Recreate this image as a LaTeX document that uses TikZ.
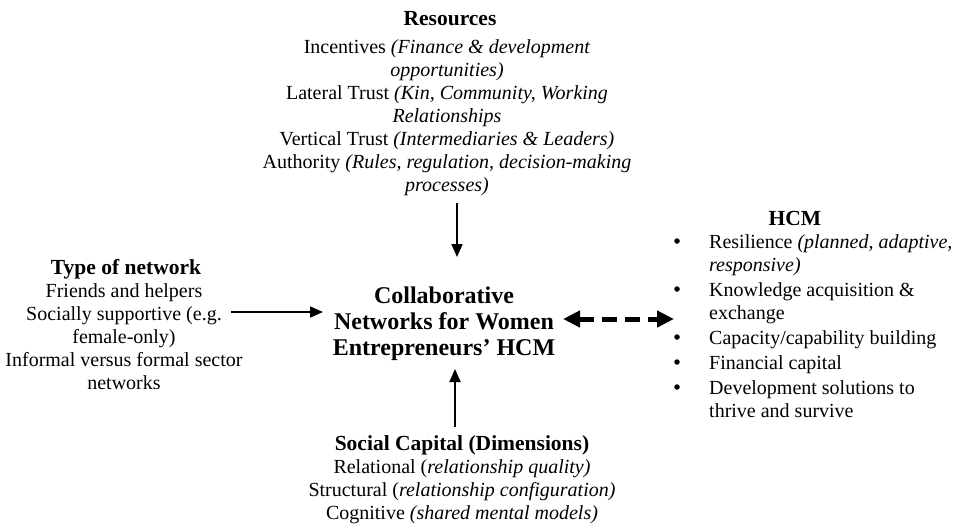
\documentclass[tikz,border=0pt]{standalone}
\usepackage{fontspec}
\setmainfont{Liberation Serif}
\usetikzlibrary{arrows.meta}
\begin{document}
\begin{tikzpicture}[x=1pt,y=-1pt,
  body/.style={inner sep=0pt,align=center,anchor=base,font=\fontsize{20}{23}\selectfont},
  ttl/.style={inner sep=0pt,anchor=base,font=\fontsize{21.5}{24}\selectfont\bfseries},
  ctr/.style={inner sep=0pt,align=center,anchor=base,font=\fontsize{24}{26}\selectfont\bfseries},
  item/.style={inner sep=0pt,align=left,anchor=base west,font=\fontsize{20}{23}\selectfont},
  bul/.style={circle,fill=black,inner sep=0pt,minimum size=5.5pt},
  arr/.style={line width=1.8pt,-{Triangle[length=13pt,width=11pt]}},
  darr/.style={line width=5pt,dash pattern=on 15pt off 8pt,{Triangle[length=17pt,width=16pt]}-{Triangle[length=17pt,width=16pt]}}]
\useasboundingbox (0,0) rectangle (954,528);
% Resources (anchor = baseline of last line)
\node[ttl] (restitle) at (450,25) {Resources};
\node[body] (resbody) at (447,191) {Incentives \textit{(Finance \& development}\\\textit{opportunities)}\\Lateral Trust \textit{(Kin, Community, Working}\\\textit{Relationships}\\Vertical Trust \textit{(Intermediaries \& Leaders)}\\Authority \textit{(Rules, regulation, decision-making}\\\textit{processes)}};
% Type of network
\node[ttl] (nettitle) at (126,274) {Type of network};
\node[body] (netbody) at (124,389) {Friends and helpers\\Socially supportive (e.g.\\female-only)\\Informal versus formal sector\\networks};
% Center
\node[ctr] (center) at (444,355) {Collaborative\\Networks for Women\\Entrepreneurs’ HCM};
% Social capital
\node[ttl] (sctitle) at (462,450) {Social Capital (Dimensions)};
\node[body] (scbody) at (462,519) {Relational (\textit{relationship quality)}\\Structural (\textit{relationship configuration)}\\Cognitive \textit{(shared mental models)}};
% HCM
\node[ttl] (hcmtitle) at (795,225) {HCM};
\node[item] (i1) at (709,271) {Resilience \textit{(planned, adaptive,}\\\textit{responsive)}};
\node[item] (i2) at (709,319) {Knowledge acquisition \&\\exchange};
\node[item] (i3) at (709,344) {Capacity/capability building};
\node[item] (i4) at (709,369) {Financial capital};
\node[item] (i5) at (709,417) {Development solutions to\\thrive and survive};
\foreach \n/\yy in {b1/241,b2/289,b3/337,b4/362,b5/387}{\node[bul] (\n) at (677,\yy) {};}
% connectors
\coordinate (dtop) at (457,203);
\coordinate (dbot) at (457,257);
\coordinate (utop) at (455,369);
\coordinate (ubot) at (455,427);
\coordinate (lfrom) at (231,312);
\coordinate (lto) at (323,312);
\coordinate (dl) at (563,319);
\coordinate (dr) at (674,319);
\draw[arr] (dtop) -- (dbot);
\draw[arr] (ubot) -- (utop);
\draw[arr] (lfrom) -- (lto);
\draw[darr] (dl) -- (dr);
\end{tikzpicture}
\end{document}
